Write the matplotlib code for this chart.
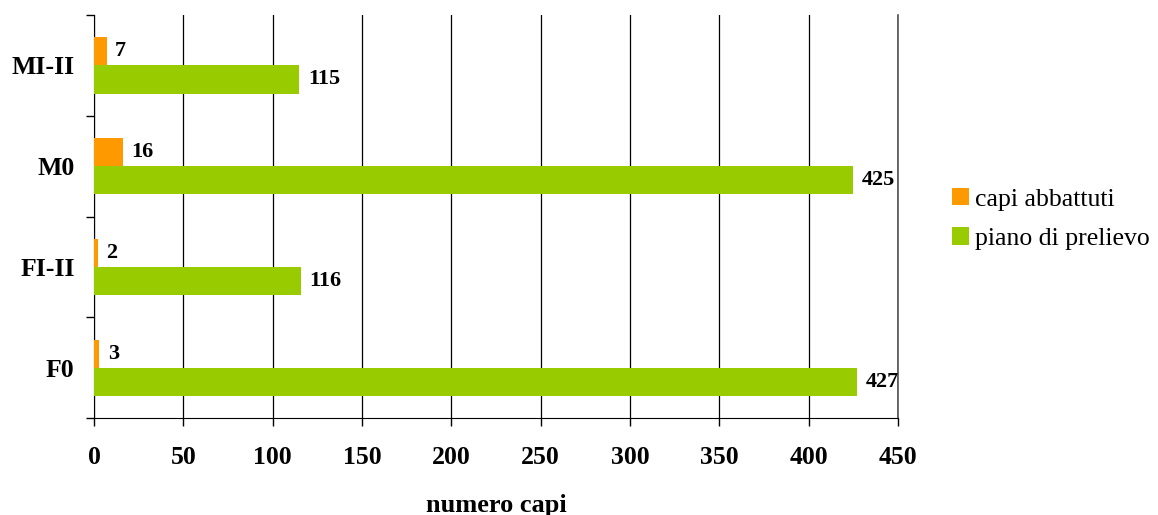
import matplotlib.pyplot as plt
import numpy as np
from matplotlib.ticker import FixedLocator

categories = ["F0", "FI-II", "M0", "MI-II"]
capi_abbattuti = [3, 2, 16, 7]
piano_prelievo = [427, 116, 425, 115]
x_ticks = [0, 50, 100, 150, 200, 250, 300, 350, 400, 450]

plt.rcParams["font.family"] = ["Liberation Serif", "DejaVu Serif"]

fig = plt.figure(figsize=(11.58, 5.15), dpi=100)
ax = fig.add_axes([0.0812, 0.188, 0.6943, 0.783])

y = np.arange(len(categories))
h = 0.28
b1 = ax.barh(y + h / 2, capi_abbattuti, height=h, color="#FF9900",
             label="capi abbattuti", zorder=3)
b2 = ax.barh(y - h / 2, piano_prelievo, height=h, color="#99CC00",
             label="piano di prelievo", zorder=3)

for bars, vals in ((b1, capi_abbattuti), (b2, piano_prelievo)):
    for bar, v in zip(bars, vals):
        ax.annotate(str(v), (bar.get_width(), bar.get_y() + bar.get_height() / 2),
                    xytext=(6, 0), textcoords="offset points", va="center",
                    ha="left", fontsize=16, fontweight="bold")

ax.set_xlim(0, 450)
ax.set_ylim(-0.5, len(categories) - 0.5)
ax.set_xticks(x_ticks)
ax.set_xticklabels([str(t) for t in x_ticks], fontsize=18.5, fontweight="bold")
ax.tick_params(axis="x", length=6, width=1, pad=14)
ax.set_yticks(y)
ax.set_yticklabels(categories, fontsize=18.5, fontweight="bold")
ax.tick_params(axis="y", which="major", length=0, pad=14)
ax.yaxis.set_minor_locator(FixedLocator(np.arange(len(categories) + 1) - 0.5))
ax.tick_params(axis="y", which="minor", length=6, width=1)

ax.grid(axis="x", color="black", linewidth=0.9, zorder=0)
# last gridline sits on the axes edge, draw it unclipped
ax.axvline(450, color="#555555", linewidth=1.2, zorder=0, clip_on=False)
ax.spines["top"].set_visible(False)
ax.spines["right"].set_visible(False)

ax.set_xlabel("numero capi", fontsize=19, fontweight="bold", va="center")
ax.xaxis.set_label_coords(0.5, -0.216)

fig.legend(handles=[b1, b2], loc="center left", bbox_to_anchor=(0.802, 0.575),
           frameon=False, fontsize=18.5, handlelength=0.66, handleheight=0.66,
           handletextpad=0.25, labelspacing=0.65)

fig.savefig("out.png", dpi=100)
